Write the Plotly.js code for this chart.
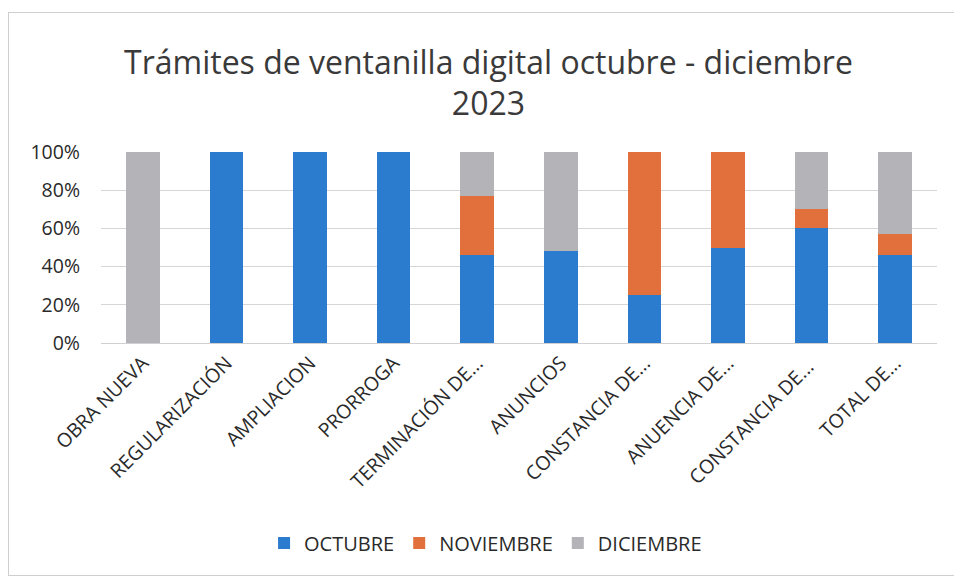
<!DOCTYPE html>
<html>
<head>
<meta charset="utf-8">
<script src="https://cdn.plot.ly/plotly-3.0.1.min.js"></script>
<style>
html,body{margin:0;padding:0;background:#fff;}
#frame{position:absolute;left:0;top:0;width:954px;height:579px;}
#border{position:absolute;left:8px;top:12px;width:960px;height:562px;border:1px solid #cfcfcf;pointer-events:none;}
#chart{position:absolute;left:0;top:0;width:954px;height:579px;}
</style>
</head>
<body>
<div id="frame"><div id="chart"></div><div id="border"></div></div>
<script>
var categories = ["OBRA NUEVA","REGULARIZACIÓN","AMPLIACION","PRORROGA","TERMINACIÓN DE...","ANUNCIOS","CONSTANCIA DE...","ANUENCIA DE...","CONSTANCIA DE... ","TOTAL DE..."];
var octubre    = [0.00, 1.00, 1.00, 1.00, 0.46, 0.48, 0.25, 0.50, 0.60, 0.46];
var noviembre  = [0.00, 0.00, 0.00, 0.00, 0.31, 0.00, 0.75, 0.50, 0.10, 0.11];
var diciembre  = [1.00, 0.00, 0.00, 0.00, 0.23, 0.52, 0.00, 0.00, 0.30, 0.43];
var seriesNames = ["OCTUBRE","NOVIEMBRE","DICIEMBRE"];
var yTickVals = [0, 0.2, 0.4, 0.6, 0.8, 1.0];
var yTickText = ["0%","20%","40%","60%","80%","100%"];
var colors = ["#2b7bcf","#e2703c","#b3b3b8"];
var fontFam = "Open Sans, Noto Sans, sans-serif";

var data = [octubre, noviembre, diciembre].map(function(v, i){
  return {type:"bar", x:categories, y:v, name:seriesNames[i], marker:{color:colors[i]}, hoverinfo:"none"};
});

var layout = {
  width:954, height:579,
  paper_bgcolor:"#ffffff", plot_bgcolor:"#ffffff",
  barmode:"stack", bargap:0.6,
  margin:{l:101, r:17, t:152, b:236},
  title:{text:"Trámites de ventanilla digital octubre - diciembre<br>2023", x:0.512, xanchor:"center", xref:"container", y:0.873, yanchor:"middle", yref:"container", font:{family:fontFam, size:32, color:"#3a3a3a"}},
  xaxis:{type:"category", tickangle:-45, tickfont:{family:fontFam, size:19.5, color:"#2a2a2a"}, showgrid:false, showline:true, linecolor:"#d0d0d0", ticks:"", fixedrange:true},
  yaxis:{range:[0,1.0], tickvals:yTickVals, ticktext:yTickText, tickfont:{family:fontFam, size:19.5, color:"#2a2a2a"}, showgrid:true, gridcolor:"#d6d6d6", zeroline:false, showline:false, ticks:"", ticklabelstandoff:20, fixedrange:true},
  showlegend:true,
  legend:{orientation:"h", x:0.46, xanchor:"center", y:0.062, yanchor:"middle", yref:"container", font:{family:fontFam, size:20, color:"#2a2a2a"}, itemwidth:30, traceorder:"normal"}
};

Plotly.newPlot("chart", data, layout, {displayModeBar:false, staticPlot:true});
</script>
</body>
</html>
